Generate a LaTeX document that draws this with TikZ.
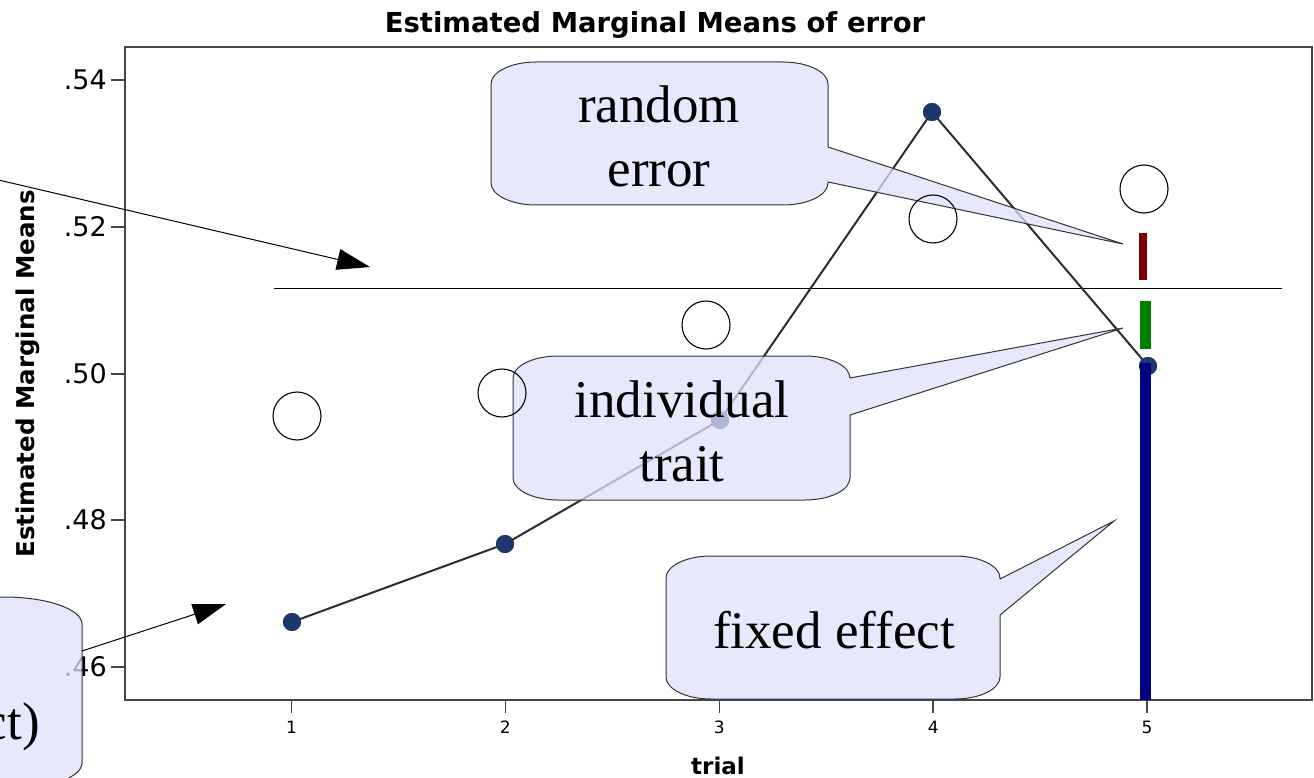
\documentclass[tikz,border=0pt]{standalone}
\usepackage{fontspec}
\setmainfont{Liberation Serif}
\newfontfamily\plotfont{DejaVu Sans}
\usetikzlibrary{arrows.meta}

\definecolor{bubblefill}{RGB}{224,225,252}
\definecolor{bubbleline}{RGB}{50,50,60}
\definecolor{dotblue}{RGB}{28,55,105}
\definecolor{barred}{RGB}{128,0,0}
\definecolor{bargreen}{RGB}{0,128,0}
\definecolor{barblue}{RGB}{0,0,128}
\definecolor{framegray}{RGB}{70,70,70}
\definecolor{linegray}{RGB}{45,45,45}

% corner radii of the speech bubbles
\def\crx{45}
\def\cry{22}
% bubble with elliptical corners and a pointer leaving the right side
% #1,#2 top left  #3,#4 bottom right  #5,#6 pointer base on right edge  #7 tip
\newcommand\bubbleR[7]{%
  \filldraw[bubble]
    ({#1+\crx},#2) -- ({#3-\crx},#2)
    .. controls +({0.55*\crx},0) and +(0,{-0.55*\cry}) .. (#3,{#2+\cry})
    -- (#3,#5) -- (#7) -- (#3,#6)
    -- (#3,{#4-\cry})
    .. controls +(0,{0.55*\cry}) and +({0.55*\crx},0) .. ({#3-\crx},#4)
    -- ({#1+\crx},#4)
    .. controls +({-0.55*\crx},0) and +(0,{0.55*\cry}) .. (#1,{#4-\cry})
    -- (#1,{#2+\cry})
    .. controls +(0,{-0.55*\cry}) and +({-0.55*\crx},0) .. ({#1+\crx},#2)
    -- cycle;}

\begin{document}
\begin{tikzpicture}[x=1pt,y=-1pt,
  bubble/.style={fill=bubblefill,fill opacity=0.75,draw=bubbleline,line width=1pt},
  bubbletext/.style={inner sep=0pt,align=center,font=\fontsize{53}{64}\selectfont},
  axisframe/.style={draw=framegray,line width=2.2pt},
  tickmark/.style={draw=framegray,line width=1.6pt},
  ytick/.style={anchor=east,inner sep=0pt,font=\plotfont\fontsize{27}{30}\selectfont},
  xtick/.style={inner sep=0pt,font=\plotfont\fontsize{17}{20}\selectfont},
  axistitle/.style={inner sep=0pt,font=\plotfont\bfseries\fontsize{24.5}{28}\selectfont},
  dot/.style={circle,fill=dotblue,minimum size=18pt,inner sep=0pt},
  ring/.style={circle,draw=black,line width=1.1pt,minimum size=48pt,inner sep=0pt},
  dataline/.style={draw=linegray,line width=2pt},
  pointer/.style={draw=black,line width=1pt,-{Triangle[length=33pt,width=21pt]}}]

\useasboundingbox (0,0) rectangle (1314,778);
\clip (0,0) rectangle (1314,778);
\fill[white] (0,0) rectangle (1314,778);

% chart title and axis titles
\node[axistitle,font=\plotfont\bfseries\fontsize{27.5}{30}\selectfont] (title) at (655,25) {Estimated Marginal Means of error};
\node[axistitle,rotate=90] (ylab) at (28,374) {Estimated Marginal Means};
\node[axistitle,font=\plotfont\bfseries\fontsize{23}{26}\selectfont] (xlab) at (718,766) {trial};

% plot frame
\draw[axisframe] (125,47) rectangle (1312,700);

% y axis ticks and labels
\foreach \lab/\yy in {54/80,52/227,50/374,48/520,46/667}{
  \draw[tickmark] (111,\yy) -- (125,\yy);
  \node[ytick] (yt\lab) at (107,\yy) {.\lab};
}
% x axis ticks and labels
\foreach \i/\xx in {1/291.5,2/505.4,3/719.3,4/933.2,5/1147}{
  \draw[tickmark] (\xx,700) -- (\xx,713);
  \node[xtick] (xt\i) at (\xx,727) {\i};
}

% grand mean
\coordinate (meanL) at (274,288);
\coordinate (meanR) at (1282,288);
\draw[line width=1pt] (meanL) -- (meanR);

% estimated means per trial
\node[dot] (d1) at (292,622) {};
\node[dot] (d2) at (505,544) {};
\node[dot] (d3) at (720,420) {};
\node[dot] (d4) at (932,112) {};
\node[dot] (d5) at (1148,366) {};
\draw[dataline] (d1.center) -- (d2.center) -- (d3.center) -- (d4.center) -- (d5.center);
\foreach \n in {1,...,5}{\fill[dotblue] (d\n) circle[radius=9];}

% decomposition bars at trial 5
\fill[barred]   (1139,233) rectangle (1147,280);
\fill[bargreen] (1140,301) rectangle (1151,349);
\fill[barblue]  (1140,363) rectangle (1151,700);

% pointer tips of the bubbles
\coordinate (tipRE) at (1123,244);
\coordinate (tipIT) at (1123,328);
\coordinate (tipFE) at (1114,521);

% speech bubbles
\bubbleR{491}{62}{828}{205}{147}{182}{tipRE}
\bubbleR{513}{356}{850}{500}{378}{415}{tipIT}
\bubbleR{666}{556}{1000}{699}{579}{615}{tipFE}
% bubble running off the lower left corner
\filldraw[bubble]
  (-300,597) -- (4,597)
  .. controls +({0.55*78},0) and +(0,{-0.55*27}) .. (82,624)
  -- (82,763)
  .. controls +(0,{0.55*27}) and +({0.55*78},0) .. (4,790)
  -- (-300,790) -- cycle;

% observed values
\node[ring] (c1) at (297,416) {};
\node[ring] (c2) at (502,393) {};
\node[ring] (c3) at (706,325) {};
\node[ring] (c4) at (933,219) {};
\node[ring] (c5) at (1144,189) {};

% arrows
\coordinate (fromUL) at (-10,178);
\coordinate (toUL) at (370,267);
\coordinate (fromLL) at (82,651);
\coordinate (toLL) at (226,604);
\draw[pointer] (fromUL) -- (toUL);
\draw[pointer] (fromLL) -- (toLL);

% bubble texts (base anchor sits on the last line)
\node[bubbletext,anchor=base] (txtRE) at (659,187) {random\\error};
\node[bubbletext,anchor=base] (txtIT) at (682,481) {individual\\trait};
\node[bubbletext,anchor=base] (txtFE) at (834,648) {fixed effect};
\node[bubbletext,anchor=base east] (txtLC) at (40,739) {ct)};
\end{tikzpicture}
\end{document}
